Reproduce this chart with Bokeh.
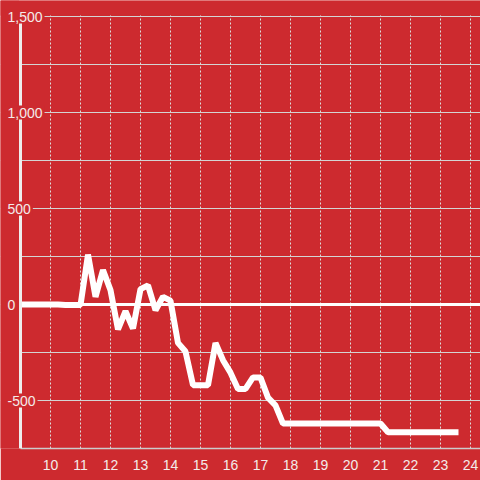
from bokeh.plotting import figure
from bokeh.models import Range1d, Label, FixedTicker, Grid, BoxAnnotation
from bokeh.embed import file_html
from bokeh.resources import INLINE

# data (vertices of the line)
xs = [9, 10.25, 10.5, 11, 11.25, 11.5, 11.75, 12, 12.25, 12.5, 12.75, 13, 13.25,
      13.5, 13.75, 14, 14.25, 14.5, 14.75, 15.25, 15.5, 15.75, 16, 16.25, 16.5,
      16.75, 17, 17.25, 17.5, 17.75, 21, 21.25, 23.5]
ys = [0, 0, -3, -3, 260, 40, 180, 75, -130, -35, -125, 80, 100,
      -30, 40, 20, -200, -245, -420, -420, -200, -290, -355, -440, -440,
      -380, -380, -485, -525, -620, -620, -665, -665]

x_ticks = list(range(10, 25))
y_grid_ticks = [-500, -250, 0, 250, 500, 750, 1000, 1250, 1500]
y_label_vals = [-500, 0, 500, 1000, 1500]
y_label_text = ["-500", "0", "500", "1,000", "1,500"]

X_MIN, X_MAX = 9, 9 + 460 / 30
Y_MIN, Y_MAX = -750, 1500
PX_X = 1 / 30          # data units per pixel (x)
PX_Y = 500 / 96        # data units per pixel (y)

RED = "#CD2A2F"
TXT = "#f4eaea"
FONT = "Liberation Sans"

p = figure(width=480, height=480, output_backend="svg", toolbar_location=None,
           x_range=Range1d(X_MIN - 20 * PX_X, X_MAX),
           y_range=Range1d(Y_MIN, Y_MAX + 16 * PX_Y),
           min_border_left=0, min_border_right=0, min_border_top=0,
           min_border_bottom=32, y_axis_location=None)
p.background_fill_color = RED
p.border_fill_color = RED
p.outline_line_color = None

for g in p.grid:
    g.visible = False

p.add_layout(Grid(dimension=0, ticker=FixedTicker(ticks=x_ticks),
                  grid_line_color="#dddddd", grid_line_width=1,
                  grid_line_dash="2 2"))
p.add_layout(Grid(dimension=1, ticker=FixedTicker(ticks=y_grid_ticks),
                  grid_line_color="#d4d4d4", grid_line_width=1))
# hide grid above the plot area
p.add_layout(BoxAnnotation(bottom=Y_MAX + 1 * PX_Y, fill_color=RED, fill_alpha=1,
                           line_color=None, level="underlay"))

ax = p.xaxis[0]
ax.ticker = FixedTicker(ticks=x_ticks)
ax.bounds = (X_MIN, X_MAX)
ax.axis_line_color = "#cccccc"
ax.axis_line_width = 1.5
ax.major_tick_line_color = None
ax.minor_tick_line_color = None
ax.major_label_text_color = TXT
ax.major_label_text_font = FONT
ax.major_label_text_font_size = "14px"
ax.major_label_standoff = 5

p.line(xs, ys, line_width=6, line_color="white", line_cap="square",
       line_join="bevel")

# zero line
p.add_layout(BoxAnnotation(left=X_MIN, bottom=-1.5 * PX_Y, top=1.5 * PX_Y,
                           fill_color="white", fill_alpha=1, line_color=None))
# blank strip left of the y axis
p.add_layout(BoxAnnotation(right=X_MIN - 1.5 * PX_X, fill_color=RED, fill_alpha=1,
                           line_color=None))
# y axis line
p.add_layout(BoxAnnotation(left=X_MIN - 1.5 * PX_X, right=X_MIN + 1.5 * PX_X,
                           bottom=Y_MIN, top=Y_MAX, fill_color="#eeeeee",
                           fill_alpha=1, line_color=None))

for v, t in zip(y_label_vals, y_label_text):
    p.add_layout(Label(x=X_MIN, y=v, x_offset=-15, text=t, text_align="left",
                       text_baseline="middle", text_font=FONT,
                       text_font_size="14px", text_color=TXT,
                       background_fill_color=RED, padding=2))

open("out.html", "w").write(file_html(p, INLINE))
